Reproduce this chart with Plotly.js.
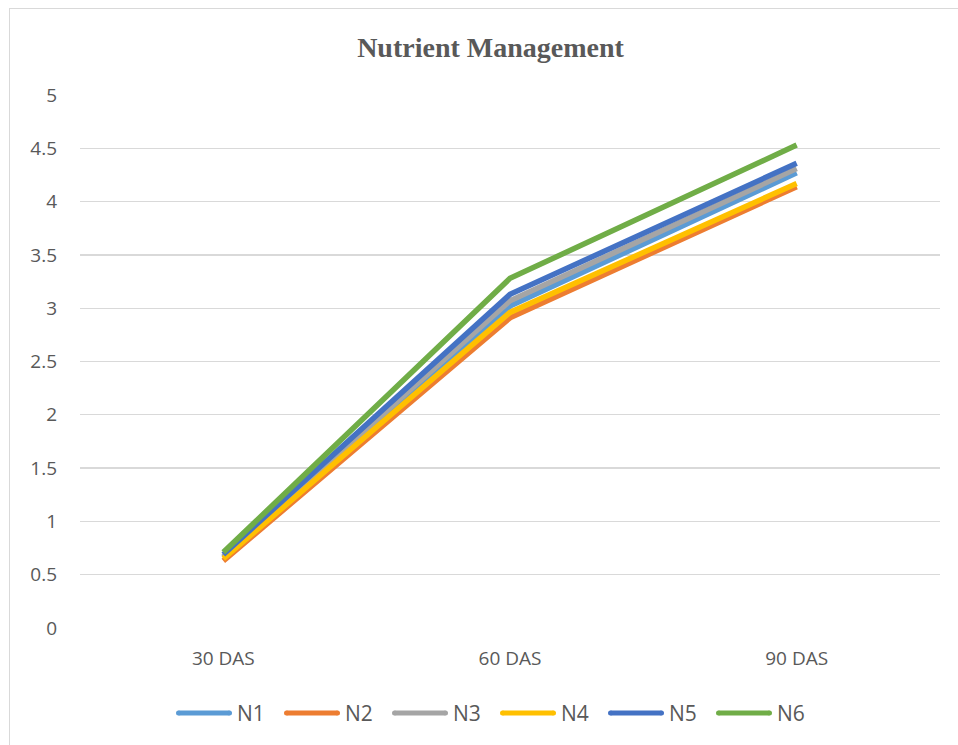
<!DOCTYPE html>
<html>
<head>
<meta charset="utf-8">
<script src="https://cdn.plot.ly/plotly-3.0.1.min.js"></script>
<style>
  html, body { margin: 0; padding: 0; background: #ffffff; }
  #wrap { position: relative; width: 958px; height: 745px; overflow: hidden; }
  #frame { position: absolute; left: 9px; top: 8px; width: 960px; height: 760px;
           border: 1px solid #d9d9d9; box-sizing: border-box; pointer-events: none; }
  #chart { position: absolute; left: 0; top: 0; width: 958px; height: 745px; }
</style>
</head>
<body>
<div id="wrap">
  <div id="frame"></div>
  <div id="chart"></div>
</div>
<script>
// Sampling stages
const stages = ['30 DAS', '60 DAS', '90 DAS'];

// Treatment values at each stage
const n1 = [0.66, 3.02, 4.27];
const n2 = [0.63, 2.91, 4.14];
const n3 = [0.67, 3.07, 4.31];
const n4 = [0.65, 2.96, 4.17];
const n5 = [0.69, 3.13, 4.36];
const n6 = [0.71, 3.28, 4.53];

const seriesNames = ['N1', 'N2', 'N3', 'N4', 'N5', 'N6'];
const seriesValues = [n1, n2, n3, n4, n5, n6];
const seriesColors = ['#5B9BD5', '#ED7D31', '#A5A5A5', '#FFC000', '#4472C4', '#70AD47'];

const yTicks = [0, 0.5, 1, 1.5, 2, 2.5, 3, 3.5, 4, 4.5, 5];

const traces = seriesNames.map((name, i) => ({
  type: 'scatter',
  mode: 'lines',
  name: name,
  x: stages,
  y: seriesValues[i],
  line: { color: seriesColors[i], width: 5.5, shape: 'linear' },
  showlegend: false,
  hoverinfo: 'x+y+name'
}));

// Plot area geometry (pixels)
const W = 958, H = 745;
const M = { l: 80, r: 18, t: 95, b: 117 };
const plotW = W - M.l - M.r;
const plotH = H - M.t - M.b;
const px2x = px => (px - M.l) / plotW;
const py2y = py => (H - M.b - py) / plotH;

// Legend row below the axis: long rounded keys followed by the series name
const keyLen = 56, keyGap = 5, entryStep = 108;
const legendLeft = W / 2 - (entryStep * seriesNames.length - 24) / 2 + 9;
const legendY = py2y(713);
const legendShapes = [];
const legendLabels = [];
seriesNames.forEach((name, i) => {
  const x0 = legendLeft + i * entryStep;
  legendShapes.push({
    type: 'line', xref: 'paper', yref: 'paper',
    x0: px2x(x0 + 2.5), x1: px2x(x0 + keyLen - 2.5), y0: legendY, y1: legendY,
    line: { color: seriesColors[i], width: 5 }
  });
  // round caps for the legend keys
  [x0 + 2.5, x0 + keyLen - 2.5].forEach(cx => {
    legendShapes.push({
      type: 'circle', xref: 'paper', yref: 'paper',
      x0: px2x(cx - 2.5), x1: px2x(cx + 2.5),
      y0: legendY - 2.5 / plotH, y1: legendY + 2.5 / plotH,
      fillcolor: seriesColors[i], line: { width: 0 }
    });
  });
  legendLabels.push({
    xref: 'paper', yref: 'paper',
    x: px2x(x0 + keyLen + keyGap - 2), y: legendY,
    xanchor: 'left', yanchor: 'middle',
    text: name, showarrow: false,
    font: { family: 'Open Sans, Liberation Sans, sans-serif', size: 21, color: '#595959' }
  });
});

const tickFont = { family: 'Open Sans, Liberation Sans, sans-serif', size: 19, color: '#595959' };

const layout = {
  width: W,
  height: H,
  paper_bgcolor: 'rgba(0,0,0,0)',
  plot_bgcolor: 'rgba(0,0,0,0)',
  margin: M,
  title: {
    text: '<b>Nutrient Management</b>',
    font: { family: 'Liberation Serif, Times New Roman, serif', size: 28, color: '#595959' },
    x: 0.512, xanchor: 'center',
    y: 0.937, yanchor: 'middle'
  },
  xaxis: {
    type: 'category',
    range: [-0.5, 2.5],
    showgrid: false,
    zeroline: false,
    showline: false,
    ticks: '',
    tickfont: tickFont,
    ticklabelstandoff: 17
  },
  yaxis: {
    range: [0, 5],
    tickvals: yTicks,
    ticktext: yTicks.map(String),
    showgrid: true,
    gridcolor: '#D9D9D9',
    gridwidth: 1.3,
    zeroline: false,
    showline: false,
    ticks: '',
    tickfont: tickFont,
    ticklabelstandoff: 22
  },
  showlegend: false,
  shapes: legendShapes,
  annotations: legendLabels
};

Plotly.newPlot('chart', traces, layout, { displayModeBar: false, staticPlot: true });
</script>
</body>
</html>
